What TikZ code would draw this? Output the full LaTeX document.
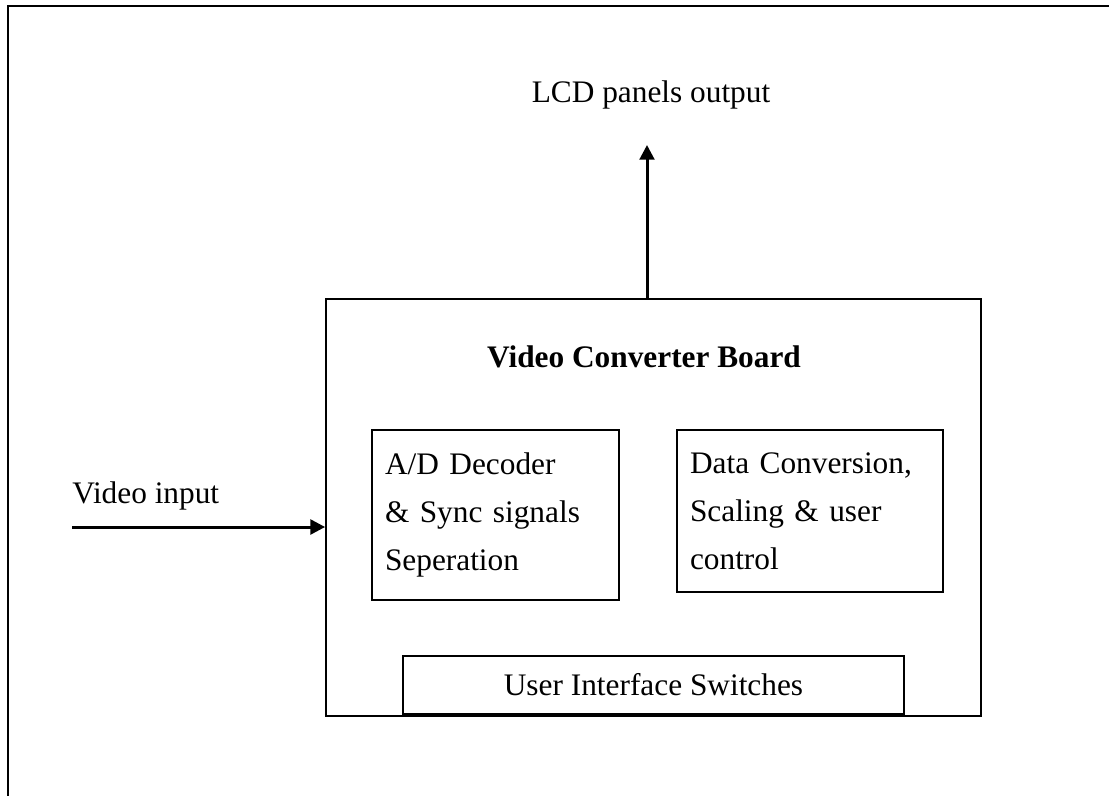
\documentclass[tikz,border=0pt]{standalone}
\usepackage{fontspec}
\setmainfont{Liberation Serif}
\usepackage{tikz}
\usetikzlibrary{positioning, arrows.meta, calc}

\begin{document}
\begin{tikzpicture}[x=0.75pt,y=-0.75pt,>={Triangle[length=11pt,width=11pt]},
  font=\fontsize{23.5}{36}\selectfont,
  blk/.style={draw,line width=1.3pt,inner sep=0pt},
  sub/.style={draw,line width=1.3pt,align=left,inner xsep=9.75pt,inner ysep=0pt}]
\useasboundingbox (0,0) rectangle (1109,796);
% page frame (cut off at right and bottom)
\draw[line width=1.5pt] (1109,6) -- (8,6) -- (8,796);

% main board
\node[blk,minimum width=655*0.75pt,minimum height=417*0.75pt] (board) at (653.5,507.5) {};
\node[font=\fontsize{23.5}{36}\selectfont\bfseries] (title) at (644,357) {Video Converter Board};
\node[sub,text width=221*0.75pt,minimum height=170*0.75pt] (adc) at (495.5,515)
  {A/D Decoder\\ \& Sync signals\\ Seperation};
\node[sub,text width=240*0.75pt,minimum height=162*0.75pt] (conv) at (810,511)
  {Data Conversion,\\ Scaling \& user\\ control};
\node[blk,minimum width=501*0.75pt,minimum height=58*0.75pt] (ui) at (653.5,685) {User Interface Switches};

% output
\coordinate (out) at (647,145);
\draw[->,line width=2.25pt] (board.north -| out) -- (out);
\node (lcd) at (651,95) {LCD panels output};

% input
\coordinate (vin) at (72,527);
\draw[->,line width=2.25pt] (vin) -- (vin -| board.west);
\node[anchor=base west,inner sep=0pt] (vlabel) at (72,503) {Video input};
\end{tikzpicture}
\end{document}
